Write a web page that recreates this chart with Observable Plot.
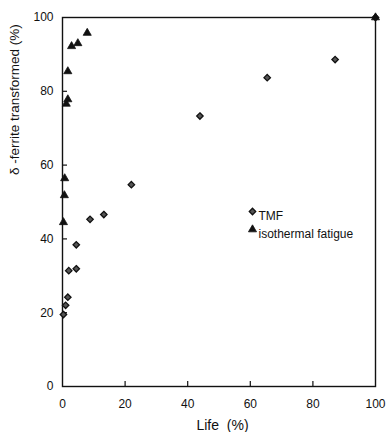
<!DOCTYPE html>
<html>
<head>
<meta charset="utf-8">
<script src="https://cdn.jsdelivr.net/npm/d3@7"></script>
<script src="https://cdn.jsdelivr.net/npm/@observablehq/plot@0.6"></script>
<style>
  html, body { margin: 0; padding: 0; background: #fff; }
  #chart svg { display: block; }
</style>
</head>
<body>
<div id="chart"></div>
<script>
// TMF series: life (%) vs delta-ferrite transformed (%)
const tmfLife  = [0.3, 1.0, 1.7, 2.0, 4.4, 4.4, 8.8, 13.2, 22.0, 43.9, 65.4, 87.1, 100];
const tmfDelta = [19.5, 22.0, 24.2, 31.4, 31.9, 38.4, 45.3, 46.6, 54.7, 73.3, 83.7, 88.6, 100];

// Isothermal fatigue series
const isoLife  = [0.3, 0.6, 0.7, 1.2, 1.7, 1.7, 2.9, 4.9, 7.9, 100];
const isoDelta = [44.5, 51.8, 56.4, 76.6, 77.8, 85.4, 92.2, 93.0, 95.8, 100];

const xTicks = [0, 20, 40, 60, 80, 100];
const yTicks = [0, 20, 40, 60, 80, 100];
const innerTicks = [20, 40, 60, 80];

const seriesNames = ["TMF", "isothermal fatigue"];
const xLabel = "Life  (%)";
const yLabel = "δ -ferrite transformed (%)";

const tmf = tmfLife.map((x, i) => ({x, y: tmfDelta[i]}));
const iso = isoLife.map((x, i) => ({x, y: isoDelta[i]}));

const W = 387, H = 432;
const mL = 62, mR = 12, mT = 17, mB = 46;
const plotW = W - mL - mR, plotH = H - mT - mB;

const tmfStyle = {symbol: "diamond2", r: 2.9, fill: "#555", stroke: "#111", strokeWidth: 1.3};
const isoStyle = {symbol: "triangle", r: 3.0, fill: "#111", stroke: "#111", strokeWidth: 0.8};

const chart = Plot.plot({
  width: W,
  height: H,
  marginLeft: mL,
  marginRight: mR,
  marginTop: mT,
  marginBottom: mB,
  style: {fontFamily: "'Liberation Sans', Arial, sans-serif", fontSize: "12px", color: "#111", background: "#fff"},
  x: {domain: [0, 100]},
  y: {domain: [0, 100]},
  marks: [
    Plot.axisX({ticks: xTicks, tickSize: 0, tickPadding: 13, label: null, fontSize: 12}),
    Plot.axisY({ticks: yTicks, tickSize: 0, tickPadding: 9, label: null, fontSize: 12}),
    Plot.ruleX(innerTicks, {x: d => d, insetTop: plotH - 5, stroke: "#111", strokeWidth: 1.2}),
    Plot.ruleY(innerTicks, {y: d => d, insetRight: plotW - 5, stroke: "#111", strokeWidth: 1.2}),
    Plot.frame({stroke: "#111", strokeWidth: 1.4}),
    Plot.dot(tmf, {x: "x", y: "y", ...tmfStyle}),
    Plot.dot(iso, {x: "x", y: "y", ...isoStyle}),
    // legend
    Plot.dot([seriesNames[0]], {frameAnchor: "top-left", dx: 190, dy: 194, ...tmfStyle}),
    Plot.dot([seriesNames[1]], {frameAnchor: "top-left", dx: 190, dy: 212, ...isoStyle}),
    Plot.text([seriesNames[0]], {text: d => d, frameAnchor: "top-left", dx: 196, dy: 194, textAnchor: "start", fontSize: 12, fill: "#111"}),
    Plot.text([seriesNames[1]], {text: d => d, frameAnchor: "top-left", dx: 196, dy: 212, textAnchor: "start", fontSize: 12, fill: "#111"}),
    // axis labels
    Plot.text([xLabel], {text: d => d, frameAnchor: "bottom", dx: 3.5, dy: 43, fontSize: 14, fill: "#111"}),
    Plot.text([yLabel], {text: d => d, frameAnchor: "left", dx: -48, dy: -27, rotate: -90, fontSize: 13.5, fill: "#111"})
  ]
});
document.getElementById("chart").appendChild(chart);
</script>
</body>
</html>
